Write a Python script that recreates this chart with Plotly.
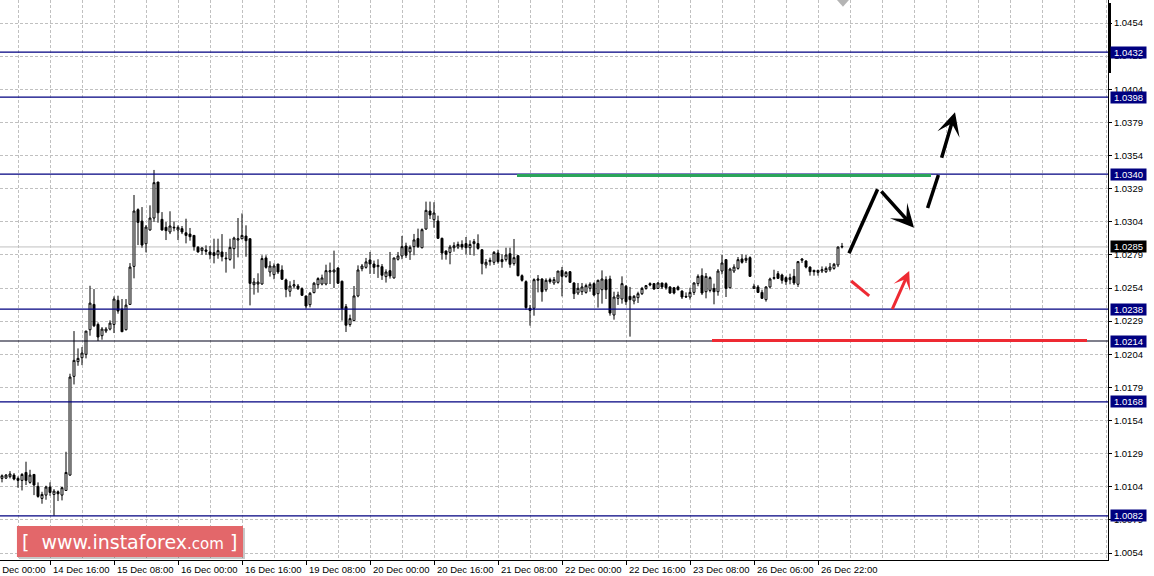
import plotly.graph_objects as go

# EUR/USD H1 candles, bar 0 = 14 Dec 04:00 ... bar 210 = 27 Dec 04:00
opens = [1.01103, 1.01105, 1.01116, 1.01128, 1.01103, 1.01088, 1.01148, 1.01073, 1.01133, 1.01043,
         1.00952, 1.00977, 1.01038, 1.00982, 1.01002, 1.00977, 1.01012, 1.01128, 1.01873, 1.01984,
         1.02014, 1.02039, 1.02225, 1.02416, 1.02265, 1.02180, 1.02215, 1.02230, 1.02265, 1.02447,
         1.02381, 1.02225, 1.02416, 1.02703, 1.03131, 1.03045, 1.02874, 1.02978, 1.03068, 1.03340,
         1.03058, 1.02998, 1.02963, 1.02993, 1.02978, 1.02988, 1.02957, 1.02947, 1.02937, 1.02847,
         1.02822, 1.02827, 1.02812, 1.02807, 1.02791, 1.02812, 1.02766, 1.02756, 1.02837, 1.02902,
         1.02912, 1.02932, 1.02912, 1.02565, 1.02570, 1.02570, 1.02767, 1.02661, 1.02641, 1.02721,
         1.02676, 1.02601, 1.02515, 1.02555, 1.02555, 1.02535, 1.02480, 1.02414, 1.02505, 1.02565,
         1.02570, 1.02570, 1.02661, 1.02661, 1.02691, 1.02591, 1.02399, 1.02264, 1.02294, 1.02480,
         1.02686, 1.02696, 1.02752, 1.02721, 1.02701, 1.02701, 1.02626, 1.02671, 1.02616, 1.02757,
         1.02782, 1.02857, 1.02812, 1.02852, 1.02913, 1.02844, 1.02985, 1.03121, 1.03056, 1.03046,
         1.02915, 1.02819, 1.02809, 1.02844, 1.02849, 1.02869, 1.02875, 1.02844, 1.02875, 1.02875,
         1.02829, 1.02714, 1.02739, 1.02734, 1.02804, 1.02754, 1.02754, 1.02799, 1.02724, 1.02784,
         1.02633, 1.02588, 1.02387, 1.02387, 1.02598, 1.02608, 1.02527, 1.02603, 1.02578, 1.02583,
         1.02673, 1.02628, 1.02663, 1.02578, 1.02502, 1.02512, 1.02507, 1.02538, 1.02573, 1.02497,
         1.02527, 1.02603, 1.02608, 1.02336, 1.02462, 1.02457, 1.02553, 1.02477, 1.02442, 1.02467,
         1.02497, 1.02537, 1.02573, 1.02573, 1.02537, 1.02578, 1.02573, 1.02548, 1.02542, 1.02548,
         1.02517, 1.02477, 1.02472, 1.02507, 1.02573, 1.02633, 1.02512, 1.02522, 1.02537, 1.02512,
         1.02668, 1.02754, 1.02542, 1.02668, 1.02688, 1.02759, 1.02749, 1.02769, 1.02537, 1.02548,
         1.02507, 1.02452, 1.02548, 1.02613, 1.02648, 1.02638, 1.02618, 1.02603, 1.02628, 1.02568,
         1.02749, 1.02744, 1.02698, 1.02673, 1.02658, 1.02668, 1.02663, 1.02678, 1.02688, 1.02714,
         1.02849]
highs = [1.01133, 1.01136, 1.01158, 1.01143, 1.01118, 1.01143, 1.01229, 1.01168, 1.01133, 1.01073,
         1.01002, 1.01048, 1.01073, 1.01022, 1.01012, 1.01038, 1.01304, 1.01893, 1.02215, 1.02084,
         1.02094, 1.02215, 1.02557, 1.02532, 1.02280, 1.02245, 1.02245, 1.02296, 1.02477, 1.02482,
         1.02457, 1.02457, 1.02728, 1.03242, 1.03141, 1.03151, 1.03015, 1.03164, 1.03431, 1.03340,
         1.03113, 1.03038, 1.03119, 1.03043, 1.03013, 1.03008, 1.03063, 1.02993, 1.02937, 1.02857,
         1.02847, 1.02862, 1.02857, 1.02912, 1.02912, 1.02947, 1.02812, 1.02912, 1.02927, 1.03068,
         1.03103, 1.03013, 1.02912, 1.02615, 1.02651, 1.02787, 1.02787, 1.02742, 1.02726, 1.02721,
         1.02711, 1.02611, 1.02591, 1.02601, 1.02570, 1.02545, 1.02480, 1.02510, 1.02586, 1.02621,
         1.02641, 1.02716, 1.02732, 1.02822, 1.02696, 1.02596, 1.02419, 1.02339, 1.02555, 1.02711,
         1.02721, 1.02767, 1.02812, 1.02747, 1.02757, 1.02721, 1.02681, 1.02812, 1.02767, 1.02812,
         1.02933, 1.02882, 1.02862, 1.02948, 1.02988, 1.02990, 1.03192, 1.03192, 1.03187, 1.03086,
         1.02920, 1.02824, 1.02865, 1.02885, 1.02890, 1.02900, 1.02925, 1.02900, 1.02910, 1.02945,
         1.02829, 1.02759, 1.02769, 1.02819, 1.02829, 1.02794, 1.02844, 1.02844, 1.02910, 1.02789,
         1.02643, 1.02598, 1.02412, 1.02613, 1.02638, 1.02613, 1.02613, 1.02618, 1.02623, 1.02668,
         1.02699, 1.02668, 1.02668, 1.02583, 1.02578, 1.02578, 1.02573, 1.02583, 1.02583, 1.02603,
         1.02673, 1.02628, 1.02633, 1.02512, 1.02512, 1.02628, 1.02563, 1.02548, 1.02487, 1.02512,
         1.02548, 1.02563, 1.02583, 1.02578, 1.02583, 1.02578, 1.02583, 1.02553, 1.02548, 1.02558,
         1.02522, 1.02507, 1.02542, 1.02583, 1.02643, 1.02688, 1.02653, 1.02628, 1.02573, 1.02683,
         1.02789, 1.02759, 1.02693, 1.02719, 1.02774, 1.02794, 1.02789, 1.02779, 1.02573, 1.02563,
         1.02527, 1.02553, 1.02618, 1.02678, 1.02668, 1.02648, 1.02628, 1.02648, 1.02683, 1.02744,
         1.02764, 1.02749, 1.02703, 1.02678, 1.02678, 1.02703, 1.02703, 1.02729, 1.02729, 1.02854,
         1.02880]
lows = [1.01073, 1.01098, 1.01103, 1.01088, 1.01033, 1.01012, 1.01053, 1.01063, 1.00977, 1.00957,
        1.00912, 1.00942, 1.00972, 1.00821, 1.00932, 1.00937, 1.01012, 1.01123, 1.01812, 1.01953,
        1.01958, 1.02009, 1.02180, 1.02245, 1.02140, 1.02150, 1.02200, 1.02220, 1.02200, 1.02346,
        1.02210, 1.02220, 1.02416, 1.02613, 1.02864, 1.02844, 1.02809, 1.02973, 1.03038, 1.03033,
        1.02973, 1.02902, 1.02947, 1.02968, 1.02902, 1.02947, 1.02877, 1.02897, 1.02822, 1.02807,
        1.02791, 1.02791, 1.02756, 1.02726, 1.02761, 1.02741, 1.02656, 1.02746, 1.02686, 1.02771,
        1.02907, 1.02776, 1.02409, 1.02490, 1.02505, 1.02565, 1.02686, 1.02626, 1.02606, 1.02646,
        1.02601, 1.02470, 1.02475, 1.02535, 1.02525, 1.02480, 1.02384, 1.02394, 1.02500, 1.02535,
        1.02560, 1.02560, 1.02570, 1.02540, 1.02570, 1.02294, 1.02208, 1.02248, 1.02289, 1.02470,
        1.02666, 1.02686, 1.02646, 1.02646, 1.02616, 1.02601, 1.02581, 1.02611, 1.02611, 1.02747,
        1.02757, 1.02767, 1.02752, 1.02787, 1.02842, 1.02839, 1.02980, 1.03061, 1.02995, 1.02910,
        1.02754, 1.02754, 1.02719, 1.02814, 1.02834, 1.02829, 1.02794, 1.02789, 1.02784, 1.02829,
        1.02643, 1.02688, 1.02709, 1.02714, 1.02724, 1.02693, 1.02739, 1.02693, 1.02709, 1.02628,
        1.02588, 1.02377, 1.02256, 1.02331, 1.02507, 1.02437, 1.02512, 1.02573, 1.02563, 1.02573,
        1.02477, 1.02618, 1.02578, 1.02457, 1.02487, 1.02487, 1.02497, 1.02512, 1.02477, 1.02392,
        1.02422, 1.02457, 1.02331, 1.02301, 1.02412, 1.02422, 1.02412, 1.02173, 1.02417, 1.02427,
        1.02487, 1.02527, 1.02553, 1.02527, 1.02532, 1.02532, 1.02527, 1.02497, 1.02492, 1.02522,
        1.02457, 1.02467, 1.02452, 1.02487, 1.02553, 1.02487, 1.02462, 1.02507, 1.02417, 1.02482,
        1.02643, 1.02472, 1.02537, 1.02653, 1.02678, 1.02724, 1.02729, 1.02623, 1.02532, 1.02502,
        1.02457, 1.02437, 1.02537, 1.02603, 1.02608, 1.02573, 1.02563, 1.02568, 1.02563, 1.02548,
        1.02729, 1.02688, 1.02633, 1.02633, 1.02633, 1.02653, 1.02653, 1.02663, 1.02678, 1.02698,
        1.02839]
closes = [1.01123, 1.01128, 1.01136, 1.01098, 1.01088, 1.01133, 1.01088, 1.01128, 1.01053, 1.00967,
          1.00982, 1.01038, 1.00997, 1.01007, 1.00987, 1.01033, 1.01148, 1.01868, 1.01994, 1.02009,
          1.02049, 1.02215, 1.02426, 1.02255, 1.02170, 1.02230, 1.02230, 1.02275, 1.02457, 1.02366,
          1.02210, 1.02411, 1.02698, 1.03121, 1.03035, 1.02864, 1.03000, 1.03068, 1.03335, 1.03108,
          1.02978, 1.02973, 1.03008, 1.02998, 1.02998, 1.02963, 1.02937, 1.02927, 1.02852, 1.02812,
          1.02842, 1.02817, 1.02791, 1.02786, 1.02822, 1.02776, 1.02761, 1.02847, 1.02917, 1.02912,
          1.02937, 1.02897, 1.02575, 1.02585, 1.02585, 1.02762, 1.02696, 1.02706, 1.02706, 1.02661,
          1.02606, 1.02530, 1.02555, 1.02565, 1.02535, 1.02485, 1.02404, 1.02500, 1.02576, 1.02611,
          1.02616, 1.02671, 1.02671, 1.02676, 1.02576, 1.02384, 1.02259, 1.02309, 1.02480, 1.02676,
          1.02706, 1.02737, 1.02721, 1.02696, 1.02711, 1.02636, 1.02661, 1.02631, 1.02767, 1.02782,
          1.02852, 1.02787, 1.02847, 1.02903, 1.02852, 1.02980, 1.03126, 1.03091, 1.03106, 1.02915,
          1.02804, 1.02794, 1.02849, 1.02859, 1.02869, 1.02849, 1.02844, 1.02869, 1.02890, 1.02839,
          1.02724, 1.02734, 1.02749, 1.02809, 1.02739, 1.02739, 1.02789, 1.02719, 1.02769, 1.02633,
          1.02598, 1.02392, 1.02371, 1.02603, 1.02608, 1.02512, 1.02598, 1.02588, 1.02603, 1.02668,
          1.02628, 1.02658, 1.02583, 1.02497, 1.02538, 1.02548, 1.02558, 1.02568, 1.02487, 1.02598,
          1.02608, 1.02527, 1.02351, 1.02472, 1.02487, 1.02573, 1.02437, 1.02452, 1.02477, 1.02497,
          1.02537, 1.02558, 1.02563, 1.02532, 1.02578, 1.02548, 1.02542, 1.02502, 1.02502, 1.02527,
          1.02472, 1.02472, 1.02507, 1.02578, 1.02628, 1.02502, 1.02628, 1.02618, 1.02512, 1.02668,
          1.02729, 1.02537, 1.02683, 1.02698, 1.02754, 1.02734, 1.02764, 1.02628, 1.02553, 1.02507,
          1.02462, 1.02548, 1.02608, 1.02618, 1.02613, 1.02598, 1.02588, 1.02618, 1.02578, 1.02739,
          1.02759, 1.02698, 1.02663, 1.02663, 1.02673, 1.02678, 1.02688, 1.02698, 1.02719, 1.02849,
          1.02854]
bars = list(range(len(opens)))

# time axis labels (bar index of each label)
tick_bars = [-4, 12, 28, 44, 60, 76, 92, 108, 124, 140, 156, 172, 188, 204]
tick_labels = ['14 Dec 00:00', '14 Dec 16:00', '15 Dec 08:00', '16 Dec 00:00', '16 Dec 16:00',
               '19 Dec 08:00', '20 Dec 00:00', '20 Dec 16:00', '21 Dec 08:00', '22 Dec 00:00',
               '22 Dec 16:00', '23 Dec 08:00', '26 Dec 06:00', '26 Dec 22:00']

# horizontal levels
levels_blue = [1.0432, 1.0398, 1.0340, 1.0238, 1.0168, 1.0082]
level_dark = 1.0214
bid_price = 1.0285

# trade idea drawing (bar, price)
green_seg = [(128.75, 1.03389), (232.25, 1.03389)]
red_seg = [(177.5, 1.02144), (271.25, 1.02144)]
black_lines = [[(211.75, 1.02802), (218.9, 1.03285)],
               [(231.4, 1.03144), (234.1, 1.03393)]]
black_arrows = [[(219.5, 1.0328), (228.0, 1.02995)],
                [(234.8, 1.03511), (238.25, 1.03866)]]
red_lines = [[(212.3, 1.02593), (216.8, 1.0248)]]
red_arrows = [[(222.4, 1.02369), (226.8, 1.02668)]]

NAVY = '#000080'
GRID = '#c0c0c0'
FONT = 'Liberation Sans'

fig = go.Figure()
fig.add_trace(go.Candlestick(x=bars, open=opens, high=highs, low=lows, close=closes,
                             increasing=dict(fillcolor='white', line=dict(color='black', width=1)),
                             decreasing=dict(fillcolor='black', line=dict(color='black', width=1)),
                             whiskerwidth=0, hoverinfo='skip', showlegend=False))

shapes = []
# bid line
shapes.append(dict(type='line', xref='paper', x0=0, x1=1, yref='y', y0=bid_price, y1=bid_price,
                   line=dict(color='#c0c0c0', width=1), layer='below'))
for lv in levels_blue:
    shapes.append(dict(type='line', xref='paper', x0=0, x1=1, yref='y', y0=lv, y1=lv,
                       line=dict(color=NAVY, width=1.2)))
shapes.append(dict(type='line', xref='paper', x0=0, x1=1, yref='y', y0=level_dark, y1=level_dark,
                   line=dict(color='#00001a', width=1.2)))
# green / red target lines
shapes.append(dict(type='line', x0=green_seg[0][0], y0=green_seg[0][1], x1=green_seg[1][0], y1=green_seg[1][1],
                   line=dict(color='#2aa55a', width=3)))
shapes.append(dict(type='line', x0=red_seg[0][0], y0=red_seg[0][1], x1=red_seg[1][0], y1=red_seg[1][1],
                   line=dict(color='#ee2a33', width=3)))
for (a, b) in black_lines:
    shapes.append(dict(type='line', x0=a[0], y0=a[1], x1=b[0], y1=b[1], line=dict(color='black', width=3.5)))
for (a, b) in red_lines:
    shapes.append(dict(type='line', x0=a[0], y0=a[1], x1=b[0], y1=b[1], line=dict(color='#ee2a33', width=3)))

# logo box
shapes.append(dict(type='rect', xref='paper', yref='paper', x0=0.0171, x1=0.2211, y0=0.0018, y1=0.0571,
                   fillcolor='rgba(0,0,0,0.22)', line=dict(width=0)))
shapes.append(dict(type='rect', xref='paper', yref='paper', x0=0.0153, x1=0.2193, y0=0.0054, y1=0.0607,
                   fillcolor='#e3676a', line=dict(width=0)))
# chart shift marker at top and scroll bar
shapes.append(dict(type='path', xref='paper', yref='paper',
                   path='M 0.7554 1 L 0.7662 1 L 0.7608 0.988 Z', fillcolor='#b4b4b4', line=dict(width=0)))
shapes.append(dict(type='rect', xref='paper', yref='paper', xsizemode='pixel', xanchor=1, x0=0, x1=3,
                   y0=0.8696, y1=0.9946, fillcolor='black', line=dict(width=0)))

annotations = []
for (a, b) in black_arrows:
    annotations.append(dict(x=b[0], y=b[1], ax=a[0], ay=a[1], xref='x', yref='y', axref='x', ayref='y',
                            text='', showarrow=True, arrowhead=3, arrowsize=1.1, arrowwidth=3.5,
                            arrowcolor='black'))
for (a, b) in red_arrows:
    annotations.append(dict(x=b[0], y=b[1], ax=a[0], ay=a[1], xref='x', yref='y', axref='x', ayref='y',
                            text='', showarrow=True, arrowhead=3, arrowsize=1.0, arrowwidth=3,
                            arrowcolor='#ee2a33'))

# price labels on the right scale
for lv in levels_blue + [level_dark]:
    annotations.append(dict(x=1, xref='paper', y=lv, yref='y', xanchor='left', yanchor='middle', xshift=2,
                            text=f'{lv:.4f}', showarrow=False, bgcolor=NAVY, borderpad=0, width=35, height=11,
                            font=dict(family=FONT, size=9.5, color='white')))
annotations.append(dict(x=1, xref='paper', y=bid_price, yref='y', xanchor='left', yanchor='middle', xshift=2,
                        text=f'{bid_price:.4f}', showarrow=False, bgcolor='black', borderpad=0, width=35, height=11,
                        font=dict(family=FONT, size=9.5, color='white')))

# time labels, left aligned at their tick
for b, lab in zip(tick_bars, tick_labels):
    if b < -0.5:
        annotations.append(dict(x=-0.5, xref='x', xshift=(b + 0.5) * 4 + 1, y=0, yref='paper', yshift=-2,
                                xanchor='left', yanchor='top', text=lab, showarrow=False,
                                font=dict(family=FONT, size=9.5, color='black')))
    else:
        annotations.append(dict(x=b, xref='x', xshift=1, y=0, yref='paper', yshift=-2,
                                xanchor='left', yanchor='top', text=lab, showarrow=False,
                                font=dict(family=FONT, size=9.5, color='black')))

# logo text
annotations.append(dict(x=0.1173, y=0.0330, xref='paper', yref='paper', showarrow=False,
                        xanchor='center', yanchor='middle',
                        text="[&nbsp;&nbsp;www.instaforex<span style='font-size:15px'>.com</span>&nbsp;]",
                        font=dict(family='DejaVu Sans', size=19, color='white')))

fig.update_layout(
    width=1154, height=576,
    margin=dict(l=0, r=46, t=0, b=16),
    paper_bgcolor='white', plot_bgcolor='white',
    font=dict(family=FONT, size=9.5, color='black'),
    shapes=shapes, annotations=annotations,
    showlegend=False, hovermode=False,
)
fig.update_xaxes(range=[-0.5, 276.5], rangeslider_visible=False,
                 tickmode='array', tickvals=tick_bars, ticktext=tick_labels, showticklabels=False,
                 ticks='outside', ticklen=4, tickcolor='black',
                 showgrid=True, gridcolor=GRID, griddash='3px,2px', gridwidth=1,
                 minor=dict(tickmode='linear', tick0=-4, dtick=8, showgrid=True, gridcolor=GRID,
                            griddash='3px,2px', ticks=''),
                 showline=True, linecolor='black', linewidth=1, zeroline=False)
fig.update_yaxes(side='right', range=[1.004872, 1.047136],
                 tickmode='linear', tick0=1.0054, dtick=0.0025, tickformat='.4f',
                 ticks='outside', ticklen=3, tickcolor='black',
                 showgrid=True, gridcolor=GRID, griddash='3px,2px', gridwidth=1,
                 showline=True, linecolor='black', linewidth=1, zeroline=False)

fig.write_html("out.html", config={'displayModeBar': False},
               post_script="document.body.style.margin='0';document.body.style.overflow='hidden';")
